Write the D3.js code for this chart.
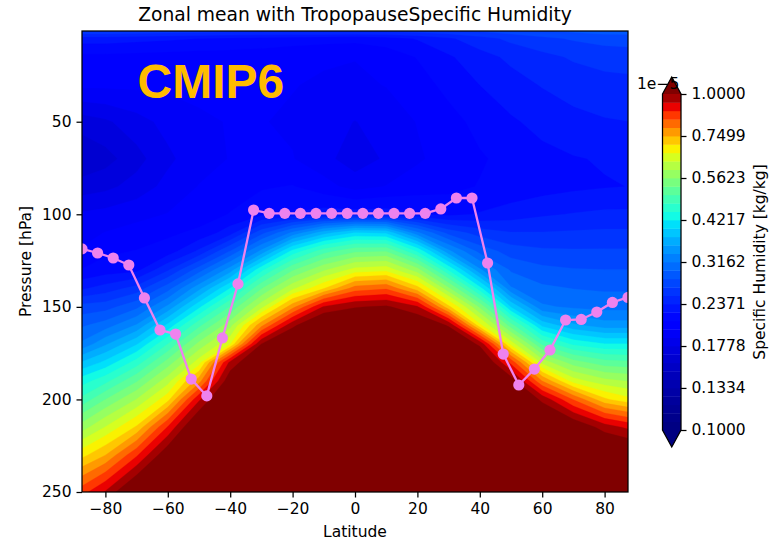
<!DOCTYPE html>
<html>
<head>
<meta charset="utf-8">
<title>Zonal mean with Tropopause</title>
<script src="https://cdn.jsdelivr.net/npm/d3@7"></script>
<style>
  body { margin: 0; background: #fff; }
  text { font-family: "DejaVu Sans", sans-serif; fill: #000; }
</style>
</head>
<body>
<svg id="chart" width="769" height="540"></svg>
<script>
// grid of the zonal mean field (specific humidity in units of 1e-6 kg/kg)
const lats = [-87.5, -80, -70, -60, -50, -40, -30, -20, -10, 0, 10, 20, 30, 40, 50, 60, 70, 80, 87.5];
const pres = [1, 5, 15, 30, 50, 70, 85, 100, 110, 120, 130, 140, 150, 160, 170, 180, 190, 200, 215, 230, 250];
const humidity = [
  [2.65, 2.65, 2.63, 2.6, 2.58, 2.56, 2.55, 2.55, 2.55, 2.55, 2.55, 2.58, 2.62, 2.68, 2.74, 2.8, 2.85, 2.9, 2.9],
  [2.3, 2.3, 2.28, 2.26, 2.24, 2.22, 2.2, 2.18, 2.16, 2.15, 2.18, 2.25, 2.35, 2.45, 2.55, 2.62, 2.68, 2.72, 2.73],
  [2.08, 2.08, 2.07, 2.06, 2.05, 2.05, 2.04, 2.02, 2.01, 2.0, 2.04, 2.12, 2.22, 2.32, 2.4, 2.47, 2.53, 2.57, 2.58],
  [2.02, 2.02, 2.02, 2.02, 2.02, 2.02, 2.02, 2.0, 1.98, 1.97, 2.0, 2.06, 2.15, 2.24, 2.32, 2.38, 2.43, 2.46, 2.47],
  [1.72, 1.76, 1.84, 1.92, 1.98, 2.0, 2.0, 1.98, 1.93, 1.88, 1.93, 2.0, 2.07, 2.15, 2.22, 2.28, 2.33, 2.36, 2.37],
  [1.6, 1.64, 1.74, 1.86, 1.95, 2.0, 2.02, 2.0, 1.92, 1.82, 1.9, 1.98, 2.04, 2.1, 2.15, 2.2, 2.23, 2.25, 2.26],
  [1.72, 1.75, 1.82, 1.92, 2.0, 2.05, 2.1, 2.12, 2.04, 1.95, 2.0, 2.05, 2.08, 2.12, 2.15, 2.18, 2.21, 2.23, 2.24],
  [1.9, 1.92, 1.96, 2.0, 2.05, 2.12, 2.2, 2.25, 2.3, 2.3, 2.3, 2.25, 2.2, 2.25, 2.3, 2.35, 2.38, 2.4, 2.4],
  [1.95, 2.0, 2.04, 2.09, 2.14, 2.31, 2.76, 3.2, 3.67, 3.99, 3.93, 3.2, 2.76, 2.59, 2.52, 2.52, 2.53, 2.54, 2.54],
  [2.01, 2.09, 2.12, 2.17, 2.4, 2.83, 3.4, 4.3, 4.9, 5.25, 5.3, 4.43, 3.4, 2.93, 2.74, 2.69, 2.68, 2.68, 2.68],
  [2.12, 2.17, 2.2, 2.49, 2.9, 3.44, 4.39, 5.26, 5.9, 6.44, 6.55, 5.75, 4.43, 3.38, 2.96, 2.86, 2.83, 2.82, 2.82],
  [2.35, 2.43, 2.57, 2.91, 3.48, 4.22, 5.28, 6.22, 7.05, 8.15, 8.34, 7.25, 5.68, 4.3, 3.18, 3.02, 2.98, 2.96, 2.96],
  [2.72, 2.75, 2.94, 3.39, 4.16, 5.03, 6.18, 7.78, 9.5, 9.95, 10.1, 9.5, 7.19, 5.55, 3.96, 3.19, 3.13, 3.1, 3.1],
  [2.96, 3.07, 3.37, 4.04, 4.93, 5.83, 7.81, 9.85, 11, 11.1, 11.2, 10.75, 9.93, 6.8, 5.13, 3.92, 3.59, 3.44, 3.44],
  [3.2, 3.51, 3.95, 4.73, 5.71, 6.64, 10.0, 11, 11.4, 11.6, 11.6, 11.3, 11, 9.85, 6.52, 4.93, 4.4, 4.22, 4.22],
  [3.78, 4.04, 4.58, 5.44, 6.49, 9.59, 11, 11.4, 11.9, 12, 12, 11.7, 11.4, 11, 8.76, 6.18, 5.45, 5.13, 5.08],
  [4.35, 4.64, 5.27, 6.16, 7.75, 10.5, 11.5, 11.8, 12.3, 12.5, 12.5, 12.1, 11.8, 11.4, 10.38, 7.93, 6.49, 6.06, 5.94],
  [4.81, 5.31, 5.97, 6.94, 9.34, 11.3, 12, 12.1, 12.8, 12.9, 12.9, 12.5, 12.1, 11.8, 11.2, 9.85, 8.38, 7.16, 6.8],
  [5.79, 6.33, 7.14, 8.96, 11, 12.1, 12.6, 12.7, 13.4, 13.5, 13.5, 13, 12.6, 12.4, 11.9, 11.25, 10.65, 9.73, 9.33],
  [6.94, 7.49, 8.83, 10.53, 11.9, 12.9, 13.1, 13.2, 14.1, 14.1, 14.1, 13.6, 13.2, 13, 12.6, 12, 11.7, 11.2, 11],
  [8.7, 9.5, 11, 12, 13, 14, 14, 14, 15, 15, 15, 14.5, 14, 14, 13.5, 13, 12.8, 12.5, 12.3]
];

// tropopause pressure (hPa)
const tropLat = [-87.5, -82.5, -77.5, -72.5, -67.5, -62.5, -57.5, -52.5, -47.5, -42.5, -37.5, -32.5,
  -27.5, -22.5, -17.5, -12.5, -7.5, -2.5, 2.5, 7.5, 12.5, 17.5, 22.5, 27.5,
  32.5, 37.5, 42.5, 47.5, 52.5, 57.5, 62.5, 67.5, 72.5, 77.5, 82.5, 87.5];
const tropPres = [118.7, 120.9, 123.6, 127.4, 145.2, 162.5, 164.7, 189, 198.1, 166.8, 137.6, 97.7,
  99.5, 99.5, 99.5, 99.5, 99.5, 99.5, 99.5, 99.5, 99.5, 99.5, 99.5, 97.1,
  91.2, 91.2, 126.3, 175.5, 192.2, 183.6, 173.3, 157.1, 156.8, 152.8, 147.6, 144.9];

const xTicks = [-80, -60, -40, -20, 0, 20, 40, 60, 80];
const yTicks = [50, 100, 150, 200, 250];
const cbarTicks = [0.1, 0.1334, 0.1778, 0.2371, 0.3162, 0.4217, 0.5623, 0.7499, 1.0]; // x 1e-5

const nLevels = 40;
const levels = d3.range(nLevels + 1).map(k => Math.pow(10, k / nLevels)); // 1e-6 .. 1e-5 (log spaced)

// jet colormap
const jr = d3.scaleLinear().domain([0, 0.35, 0.66, 0.89, 1]).range([0, 0, 1, 1, 0.5]).clamp(true);
const jg = d3.scaleLinear().domain([0, 0.125, 0.375, 0.64, 0.91, 1]).range([0, 0, 1, 1, 0, 0]).clamp(true);
const jb = d3.scaleLinear().domain([0, 0.11, 0.34, 0.65, 1]).range([0.5, 1, 1, 0, 0]).clamp(true);
const jet = t => d3.rgb(jr(t) * 255, jg(t) * 255, jb(t) * 255).formatHex();
const norm = d3.scaleLinear().domain([levels[0], levels[nLevels]]);
const bandColor = d3.range(nLevels).map(k => jet(norm((levels[k] + levels[k + 1]) / 2)));
const underColor = jet(0), overColor = jet(1);

const svg = d3.select("#chart");
const margin = {left: 82, right: 628, top: 31, bottom: 492};

const x = d3.scaleLinear().domain([-87.5, 87.5]).range([margin.left, margin.right]);
const y = d3.scaleLinear().domain([1, 250]).range([margin.top, margin.bottom]);

svg.append("clipPath").attr("id", "plotclip")
  .append("rect")
  .attr("x", margin.left).attr("y", margin.top)
  .attr("width", margin.right - margin.left).attr("height", margin.bottom - margin.top);

const plot = svg.append("g").attr("clip-path", "url(#plotclip)");

// filled contours
const nx = lats.length, ny = pres.length;
const ix = d3.scaleLinear().domain(d3.range(nx)).range(lats).clamp(true);
const iy = d3.scaleLinear().domain(d3.range(ny)).range(pres).clamp(true);
const gridProj = d3.geoTransform({
  point(px, py) { this.stream.point(x(ix(px - 0.5)), y(iy(py - 0.5))); }
});
const path = d3.geoPath(gridProj);

const contours = d3.contours().size([nx, ny]).thresholds(levels)(humidity.flat());

plot.append("rect")
  .attr("x", margin.left).attr("y", margin.top)
  .attr("width", margin.right - margin.left).attr("height", margin.bottom - margin.top)
  .attr("fill", underColor);

plot.append("g").selectAll("path")
  .data(contours)
  .join("path")
  .attr("d", path)
  .attr("fill", (d, i) => i < nLevels ? bandColor[i] : overColor)
  .attr("stroke", (d, i) => i < nLevels ? bandColor[i] : overColor)
  .attr("stroke-width", 0.3);

// tropopause line
const trop = tropLat.map((lat, i) => ({lat, p: tropPres[i]}));
plot.append("path")
  .datum(trop)
  .attr("fill", "none")
  .attr("stroke", "violet")
  .attr("stroke-width", 2.3)
  .attr("d", d3.line().x(d => x(d.lat)).y(d => y(d.p)));
plot.append("g").selectAll("circle")
  .data(trop)
  .join("circle")
  .attr("cx", d => x(d.lat))
  .attr("cy", d => y(d.p))
  .attr("r", 5.6)
  .attr("fill", "violet");

plot.append("text")
  .attr("x", x(-87.5) + 0.1 * (margin.right - margin.left) + 1)
  .attr("y", 98)
  .style("font-family", "'Liberation Sans', Arial, sans-serif")
  .style("font-weight", "bold")
  .style("font-size", "48px")
  .style("fill", "#ffbc00")
  .text("CMIP6");

// frame
svg.append("rect")
  .attr("x", margin.left).attr("y", margin.top)
  .attr("width", margin.right - margin.left).attr("height", margin.bottom - margin.top)
  .attr("fill", "none").attr("stroke", "#000").attr("stroke-width", 1.25);

// axes
const fs = "15.5px";
const xAxis = svg.append("g")
  .attr("transform", `translate(0,${margin.bottom})`)
  .call(d3.axisBottom(x).tickValues(xTicks).tickSize(5.5).tickPadding(5));
const yAxis = svg.append("g")
  .attr("transform", `translate(${margin.left},0)`)
  .call(d3.axisLeft(y).tickValues(yTicks).tickSize(5.5).tickPadding(5));
[xAxis, yAxis].forEach(a => {
  a.select(".domain").remove();
  a.selectAll(".tick line").attr("stroke", "#000").attr("stroke-width", 1.25);
  a.selectAll(".tick text").style("font-size", fs).style("font-family", "'DejaVu Sans', sans-serif");
});

svg.append("text")
  .attr("x", (margin.left + margin.right) / 2).attr("y", 537)
  .attr("text-anchor", "middle").style("font-size", fs)
  .text("Latitude");
svg.append("text")
  .attr("transform", `translate(31,${(margin.top + margin.bottom) / 2}) rotate(-90)`)
  .attr("text-anchor", "middle").style("font-size", fs)
  .text("Pressure [hPa]");
svg.append("text")
  .attr("x", (margin.left + margin.right) / 2).attr("y", 21)
  .attr("text-anchor", "middle").style("font-size", "18.7px")
  .text("Zonal mean with TropopauseSpecific Humidity");

// colorbar
const cb = {x0: 662.5, x1: 681, top: 94, bottom: 430, tip: 17};
const cbBand = d3.scaleLinear().domain([0, nLevels]).range([cb.bottom, cb.top]);
const cbScale = d3.scaleLog().domain([0.1, 1.0]).range([cb.bottom, cb.top]);
const cbar = svg.append("g");
cbar.selectAll("rect")
  .data(bandColor)
  .join("rect")
  .attr("x", cb.x0).attr("width", cb.x1 - cb.x0)
  .attr("y", (d, i) => cbBand(i + 1)).attr("height", (d, i) => cbBand(i) - cbBand(i + 1) + 0.4)
  .attr("fill", d => d);
const xm = (cb.x0 + cb.x1) / 2;
cbar.append("path")
  .attr("d", `M${cb.x0},${cb.top}L${xm},${cb.top - cb.tip}L${cb.x1},${cb.top}Z`)
  .attr("fill", overColor);
cbar.append("path")
  .attr("d", `M${cb.x0},${cb.bottom}L${xm},${cb.bottom + cb.tip}L${cb.x1},${cb.bottom}Z`)
  .attr("fill", underColor);
cbar.append("path")
  .attr("d", `M${cb.x0},${cb.top}L${xm},${cb.top - cb.tip}L${cb.x1},${cb.top}L${cb.x1},${cb.bottom}L${xm},${cb.bottom + cb.tip}L${cb.x0},${cb.bottom}Z`)
  .attr("fill", "none").attr("stroke", "#000").attr("stroke-width", 1.25);

const cAxis = svg.append("g")
  .attr("transform", `translate(${cb.x1},0)`)
  .call(d3.axisRight(cbScale).tickValues(cbarTicks).tickFormat(d => d.toFixed(4)).tickSize(5.5).tickPadding(5));
cAxis.select(".domain").remove();
cAxis.selectAll(".tick line").attr("stroke", "#000").attr("stroke-width", 1.25);
cAxis.selectAll(".tick text").style("font-size", fs).style("font-family", "'DejaVu Sans', sans-serif");

svg.append("text")
  .attr("x", 637).attr("y", 89)
  .style("font-size", fs)
  .text("1e\u22125");
svg.append("text")
  .attr("transform", `translate(765,${(cb.top + cb.bottom) / 2}) rotate(-90)`)
  .attr("text-anchor", "middle").style("font-size", fs)
  .text("Specific Humidity [kg/kg]");
</script>
</body>
</html>
